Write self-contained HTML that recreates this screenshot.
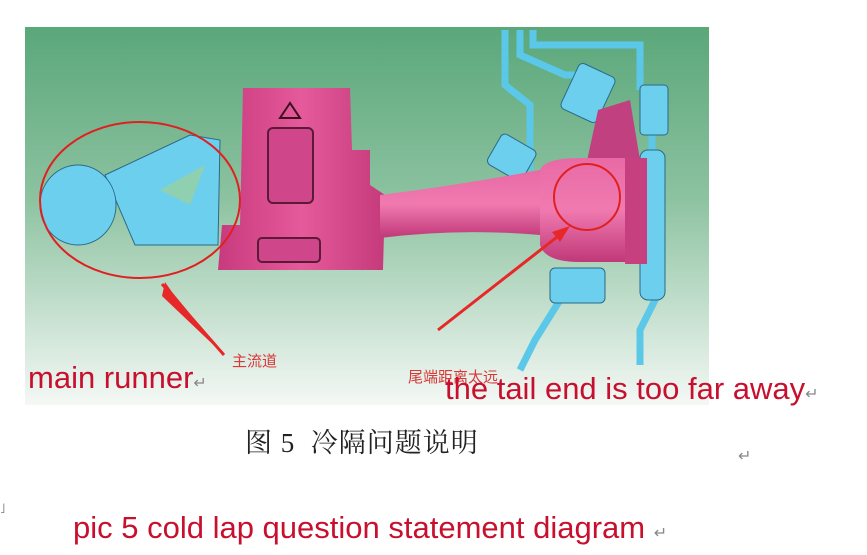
<!DOCTYPE html>
<html><head><meta charset="utf-8"><style>
html,body{margin:0;padding:0;background:#fff;width:867px;height:555px;overflow:hidden;position:relative;font-family:"Liberation Sans","Noto Sans CJK SC",sans-serif}
.t{position:absolute;white-space:nowrap}
.r{color:#c8102e}
.g{color:#888}
</style></head><body>
<svg width="867" height="555" style="position:absolute;left:0;top:0">
<defs>
<linearGradient id="bg" x1="0" y1="0" x2="0" y2="1">
<stop offset="0" stop-color="#5aa77a"/><stop offset="0.45" stop-color="#8cc2a0"/><stop offset="1" stop-color="#f4f8f5"/>
</linearGradient>
<linearGradient id="pk" x1="0" y1="0" x2="1" y2="0">
<stop offset="0" stop-color="#c83a7e"/><stop offset="0.5" stop-color="#e55a9a"/><stop offset="1" stop-color="#c43a7a"/>
</linearGradient>
<linearGradient id="pp" x1="0" y1="0" x2="0" y2="1">
<stop offset="0" stop-color="#e86aa5"/><stop offset="0.5" stop-color="#f07ab0"/><stop offset="1" stop-color="#c03878"/>
</linearGradient>
</defs>
<rect x="25" y="27" width="684" height="378" fill="url(#bg)"/>
<g fill="none" stroke="#5bc8ea" stroke-width="7">
<path d="M505 30 V85 L530 105 V170"/>
<path d="M520 30 V55 L565 75 H580"/>
<path d="M533 30 V45 H640 V90"/>
<path d="M655 230 V300 L640 330 V365"/>
<path d="M560 300 L535 340 L520 370"/>
<path d="M652 120 V300"/>
</g>
<g fill="#6ccfee" stroke="#2a6a88" stroke-width="1">
<rect x="568" y="68" width="40" height="50" rx="5" transform="rotate(25 588 93)"/>
<rect x="640" y="85" width="28" height="50" rx="4"/>
<rect x="492" y="140" width="40" height="35" rx="5" transform="rotate(30 512 157)"/>
<rect x="550" y="268" width="55" height="35" rx="5"/>
<rect x="640" y="150" width="25" height="150" rx="8"/>
</g>
<path d="M598 110 L630 100 L640 160 L585 170 Z" fill="#c04080"/>
<path d="M105 175 L190 135 L220 140 L218 245 L135 245 Z" fill="#6ccfee" stroke="#2a6a88" stroke-width="1"/>
<ellipse cx="78" cy="205" rx="38" ry="40" fill="#6ccfee" stroke="#2a6a88" stroke-width="1"/>
<path d="M160 190 L205 165 L190 205 Z" fill="#8fd0b0"/>
<path d="M243 88 L350 88 L352 150 L370 150 L370 185 L385 195 L383 270 L218 270 L222 225 L240 225 Z" fill="url(#pk)"/>
<rect x="268" y="128" width="45" height="75" rx="5" fill="#d0468a" stroke="#5a1a38" stroke-width="2"/>
<rect x="258" y="238" width="62" height="24" rx="4" fill="#d0468a" stroke="#5a1a38" stroke-width="2"/>
<path d="M280 118 L290 103 L300 118 Z" fill="none" stroke="#3a1020" stroke-width="2"/>
<path d="M380 195 Q460 185 540 170 L540 235 Q460 228 380 238 Z" fill="url(#pp)"/>
<path d="M540 170 Q545 158 580 158 L640 158 L640 262 L580 262 Q545 262 540 245 Z" fill="url(#pp)"/>
<rect x="625" y="158" width="22" height="106" fill="#c64080"/>
<ellipse cx="140" cy="200" rx="100" ry="78" fill="none" stroke="#e02020" stroke-width="2"/>
<ellipse cx="587" cy="197" rx="33" ry="33" fill="none" stroke="#e02020" stroke-width="2"/>
<path d="M224 355 L172 292 L165 282 L162 296 Z" fill="#e62828"/>
<line x1="224" y1="355" x2="162" y2="284" stroke="#e62828" stroke-width="3"/>
<line x1="438" y1="330" x2="566" y2="230" stroke="#e62828" stroke-width="3"/>
<path d="M570 226 L552 232 L560 242 Z" fill="#e62828"/>
</svg>
<div class="t" style="left:232px;top:350px;font-size:15px;color:#d83838">主流道</div>
<div class="t" style="left:408px;top:366px;font-size:15px;color:#d83838">尾端距离太远</div>
<div class="t r" style="left:28px;top:360px;font-size:31px;line-height:36px">main runner<span class="g" style="font-size:16px">↵</span></div>
<div class="t r" style="left:445px;top:371px;font-size:31px;line-height:36px">the tail end is too far away<span class="g" style="font-size:16px">↵</span></div>
<div class="t" style="left:245px;top:427px;font-size:27px;line-height:32px;letter-spacing:1px;color:#222;font-family:'Liberation Serif','Noto Serif CJK SC',serif">图 5&nbsp; 冷隔问题说明</div>
<div class="t g" style="left:738px;top:446px;font-size:16px">↵</div>
<div class="t g" style="left:0px;top:500px;font-size:14px">˩</div>
<div class="t r" style="left:73px;top:510px;font-size:31px;line-height:36px">pic 5 cold lap question statement diagram <span class="g" style="font-size:16px">↵</span></div>
</body></html>
